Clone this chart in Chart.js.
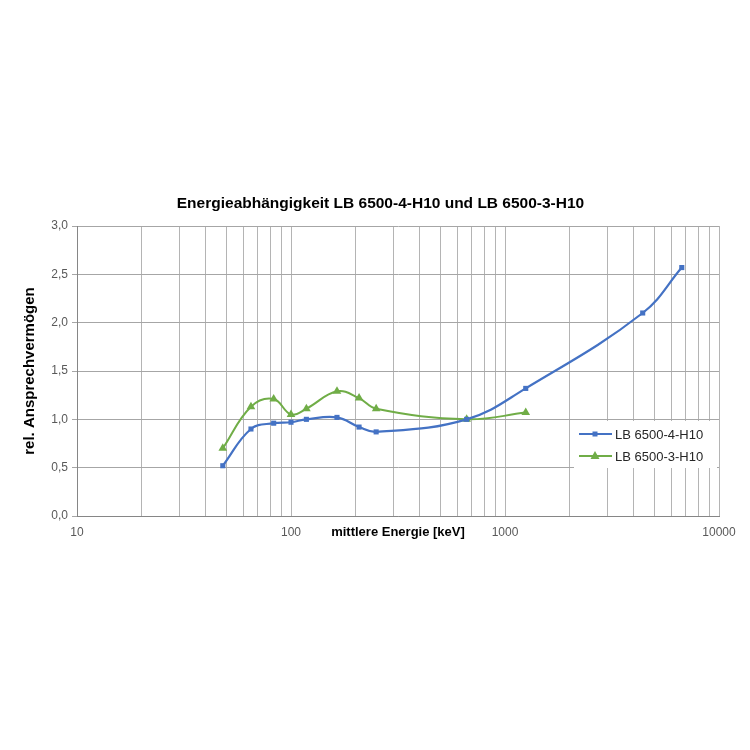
<!DOCTYPE html>
<html lang="de">
<head>
    <meta charset="UTF-8">
    <title>Energieabhängigkeit</title>
    <style>
        body { margin: 0; background: #fff; }
        #wrap { width: 750px; height: 750px; }
    </style>
    <script src="https://cdn.jsdelivr.net/npm/chart.js"></script>
</head>
<body>
<div id="wrap"><canvas id="chart"></canvas></div>
<script>
    // mittlere Energie [keV]
    const energie4 = [48, 65, 83, 100, 118, 164, 208, 250, 662, 1250, 4400, 6700];
    const lb4 = [0.52, 0.90, 0.96, 0.97, 1.00, 1.02, 0.92, 0.87, 1.00, 1.32, 2.10, 2.57];

    const energie3 = [48, 65, 83, 100, 118, 164, 208, 250, 662, 1250];
    const lb3 = [0.70, 1.13, 1.21, 1.05, 1.11, 1.29, 1.22, 1.11, 1.00, 1.07];

    const xLabels = [10, 100, 1000, 10000];
    const yTicks = [0, 0.5, 1, 1.5, 2, 2.5, 3];

    const FONT = "'Liberation Sans', Arial, sans-serif";

    function punkte(xs, ys) {
        return xs.map((x, i) => ({ x: x, y: ys[i] }));
    }

    // Legende innerhalb der Zeichenfläche, mit weißem Hintergrund
    const legendeRechts = {
        id: 'legendeRechts',
        afterDraw(chart) {
            const ctx = chart.ctx;
            const ca = chart.chartArea;
            const left = ca.right - 145, top = ca.top + 195;
            ctx.save();
            ctx.fillStyle = '#fff';
            ctx.fillRect(left, top, 143, 47);
            chart.data.datasets.forEach((ds, i) => {
                const y = top + 13 + i * 22;
                ctx.strokeStyle = ds.borderColor;
                ctx.lineWidth = 2;
                ctx.beginPath();
                ctx.moveTo(left + 5, y);
                ctx.lineTo(left + 38, y);
                ctx.stroke();
                ctx.fillStyle = ds.borderColor;
                const cx = left + 21;
                ctx.beginPath();
                if (ds.pointStyle === 'triangle') {
                    ctx.moveTo(cx, y - 5);
                    ctx.lineTo(cx + 4.5, y + 3);
                    ctx.lineTo(cx - 4.5, y + 3);
                    ctx.closePath();
                } else {
                    ctx.rect(cx - 2.5, y - 2.5, 5, 5);
                }
                ctx.fill();
                ctx.fillStyle = '#262626';
                ctx.font = '13px ' + FONT;
                ctx.textBaseline = 'middle';
                ctx.fillText(ds.label, left + 41, y + 1);
            });
            ctx.restore();
        }
    };

    const ctx = document.getElementById('chart').getContext('2d');
    new Chart(ctx, {
        type: 'scatter',
        data: {
            datasets: [
                {
                    label: 'LB 6500-4-H10',
                    data: punkte(energie4, lb4),
                    showLine: true,
                    borderColor: '#4472C4',
                    backgroundColor: '#4472C4',
                    borderWidth: 2.2,
                    pointStyle: 'rect',
                    pointRadius: 3.6,
                    pointBorderWidth: 0,
                    tension: 0.4
                },
                {
                    label: 'LB 6500-3-H10',
                    data: punkte(energie3, lb3),
                    showLine: true,
                    borderColor: '#70AD47',
                    backgroundColor: '#70AD47',
                    borderWidth: 2,
                    pointStyle: 'triangle',
                    pointRadius: 5,
                    pointBorderWidth: 0,
                    tension: 0.4
                }
            ]
        },
        options: {
            responsive: true,
            maintainAspectRatio: false,
            animation: false,
            // linker Rand so gewählt, dass der Titel bei x≈380 zentriert ist
            layout: { padding: { top: 194, left: 42, right: 31, bottom: 210 } },
            plugins: {
                legend: { display: false },
                tooltip: { enabled: false },
                title: {
                    display: true,
                    text: 'Energieabhängigkeit LB 6500-4-H10 und LB 6500-3-H10',
                    color: '#000',
                    font: { family: FONT, size: 15.5, weight: 'bold' },
                    padding: { top: 0, bottom: 13.4 }
                }
            },
            scales: {
                x: {
                    type: 'logarithmic',
                    min: 10,
                    max: 10000,
                    afterBuildTicks(scale) {
                        const t = [];
                        for (let d = 10; d < 10000; d *= 10) {
                            for (let m = 1; m < 10; m++) t.push({ value: d * m });
                        }
                        t.push({ value: 10000 });
                        scale.ticks = t;
                    },
                    afterFit(scale) { scale.height = 24; },
                    grid: { color: '#b4b4b4', drawTicks: false },
                    border: { color: '#868686' },
                    ticks: {
                        autoSkip: false,
                        maxRotation: 0,
                        padding: 9,
                        color: '#595959',
                        font: { family: FONT, size: 12 },
                        callback: v => xLabels.includes(v) ? String(v) : ''
                    },
                    title: {
                        display: true,
                        text: 'mittlere Energie [keV]',
                        color: '#000',
                        font: { family: FONT, size: 13, weight: 'bold' },
                        padding: { top: -15.6, bottom: 0 }
                    }
                },
                y: {
                    min: 0,
                    max: 3,
                    afterBuildTicks(scale) {
                        scale.ticks = yTicks.map(v => ({ value: v }));
                    },
                    afterFit(scale) { scale.width = 35; },
                    grid: { color: '#a6a6a6', tickLength: 5 },
                    border: { color: '#868686' },
                    ticks: {
                        padding: 4,
                        color: '#595959',
                        font: { family: FONT, size: 12 },
                        callback: v => v.toFixed(1).replace('.', ',')
                    },
                    title: {
                        display: true,
                        text: 'rel. Ansprechvermögen',
                        color: '#000',
                        font: { family: FONT, size: 15, weight: 'bold' },
                        padding: { top: -21, bottom: 0 }
                    }
                }
            }
        },
        plugins: [legendeRechts]
    });
</script>
</body>
</html>
